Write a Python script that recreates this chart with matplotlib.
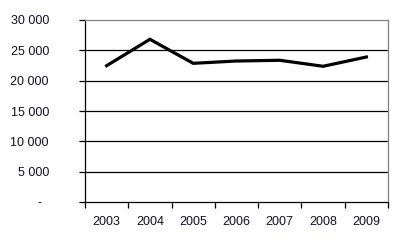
import matplotlib
matplotlib.use('Agg')
import matplotlib.pyplot as plt
import matplotlib.transforms as mtransforms
from matplotlib.ticker import FuncFormatter, FixedLocator

years = ['2003', '2004', '2005', '2006', '2007', '2008', '2009']
values = [22470, 26820, 22860, 23240, 23360, 22370, 23900]
yticks = [0, 5000, 10000, 15000, 20000, 25000, 30000]

plt.rcParams['font.family'] = ['Liberation Sans', 'DejaVu Sans']
plt.rcParams['font.size'] = 9

fig = plt.figure(figsize=(3.97, 2.47), dpi=100)
ax = fig.add_axes([85/397, 45/247, 303/397, 182/247])

x = list(range(len(years)))
ax.plot(x, values, color='black', linewidth=2.3, solid_joinstyle='miter')

ax.set_xlim(-0.5, len(years) - 0.5)
ax.set_ylim(0, 30000)

ax.set_yticks(yticks)
ax.yaxis.set_major_formatter(FuncFormatter(
    lambda v, p: '-' if v == 0 else f'{int(v):,}'.replace(',', ' ')))
for v in yticks[1:-1]:
    ax.axhline(v, color='black', linewidth=0.9, zorder=0)

# category labels in the middle, ticks between
ax.xaxis.set_major_locator(FixedLocator([i - 0.5 for i in range(len(years) + 1)]))
ax.xaxis.set_major_formatter(FuncFormatter(lambda v, p: ''))
ax.xaxis.set_minor_locator(FixedLocator(x))
ax.set_xticklabels(years, minor=True)
ax.tick_params(axis='x', which='minor', length=0, pad=10)
ax.tick_params(axis='x', which='major', length=4, width=0.9, direction='out')
ax.tick_params(axis='y', length=4, width=0.9, direction='out', pad=22)
ax.tick_params(axis='both', which='both', colors='black', labelcolor='#111122')

for s in ['top', 'right']:
    ax.spines[s].set_color('#808080')
    ax.spines[s].set_linewidth(0.9)
for s in ['left', 'bottom']:
    ax.spines[s].set_color('black')
    ax.spines[s].set_linewidth(0.9)

fig.canvas.draw()
# the dash for zero sits further left than the numbers
for lbl in ax.get_yticklabels():
    if lbl.get_text() == '-':
        lbl.set_transform(lbl.get_transform() +
                          mtransforms.ScaledTranslation(-7/100, 0, fig.dpi_scale_trans))

fig.savefig('out.png', dpi=100)
